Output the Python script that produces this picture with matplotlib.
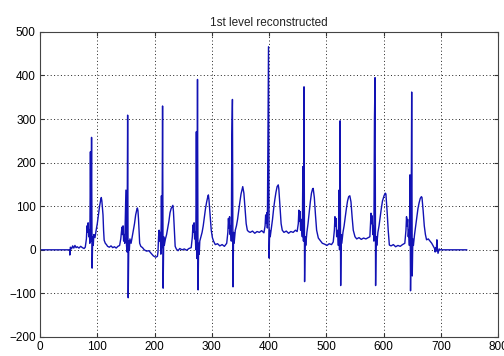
import matplotlib
matplotlib.use("Agg")
import matplotlib.pyplot as plt

# Sample positions and reconstructed amplitudes
sample_x = [0, 52,
    52, 53, 55, 57, 59, 61, 63, 65, 68, 71, 74, 77, 79, 81, 82, 83, 84, 85, 86, 87, 88, 89, 90, 91, 92, 93, 94, 96, 98, 100, 102, 104, 106, 107, 108, 110, 111, 112, 114, 116, 118, 121, 124, 127, 130, 133, 136, 139,
    141, 143, 144, 145, 146, 147, 148, 150, 151, 152, 153, 154, 155, 156, 157, 159, 161, 163, 165, 167, 169, 170, 171, 172, 173, 174, 176, 179, 182, 186, 190, 194, 198, 202, 205,
    206, 207, 208, 209, 210, 211, 212, 213, 214, 215, 216, 217, 219, 221, 223, 225, 227, 229, 231, 232, 233, 234, 235, 236, 238, 241, 244, 248, 252, 256, 260, 264,
    266, 267, 268, 269, 270, 271, 272, 273, 274, 275, 276, 277, 278, 279, 281, 283, 285, 287, 289, 291, 293, 294, 295, 297, 299, 301, 303, 306, 310, 314, 318, 322, 326,
    328, 329, 330, 331, 332, 333, 334, 335, 336, 337, 338, 339, 341, 343, 345, 347, 349, 351, 353, 354, 356, 358, 360, 362, 364, 367, 371, 375, 379, 383, 387, 391,
    393, 394, 395, 396, 397, 398, 399, 400, 401, 402, 404, 406, 408, 410, 412, 414, 416, 417, 419, 421, 423, 426, 430, 434, 438, 442, 446, 449,
    451, 452, 453, 454, 455, 456, 458, 459, 460, 461, 462, 463, 464, 466, 468, 470, 472, 474, 476, 477, 479, 481, 483, 486, 489, 493, 497, 501, 505, 509, 512,
    514, 515, 516, 517, 518, 520, 521, 522, 523, 524, 525, 526, 527, 529, 531, 533, 535, 537, 539, 541, 543, 545, 547, 550, 553, 557, 561, 565, 569, 573, 576,
    577, 578, 579, 580, 581, 582, 583, 584, 585, 586, 587, 588, 590, 592, 594, 596, 598, 601, 603, 604, 606, 608, 610, 613, 617, 621, 625, 629, 633, 637,
    639, 640, 641, 642, 643, 644, 645, 646, 647, 648, 649, 650, 651, 652, 654, 656, 658, 660, 662, 664, 666, 667, 669, 671, 673, 675, 678, 681, 684, 687, 689, 690, 691, 692, 693, 694, 695, 697, 699, 745]

signal_y = [0, 0,
    -12, 6, 2, 9, 4, 10, 5, 7, 4, 8, 5, 3, 6, 25, 55, 40, 62, 30, 45, 15, 225, 20, 258, -42, 30, 10, 35, 28, 45, 60, 80, 100, 115, 120, 112, 80, 45, 22, 15, 12, 8, 6, 9, 5, 7, 4, 8, 10,
    25, 52, 35, 55, 20, 35, 15, 137, 10, -5, 309, -110, 20, 0, 25, 15, 30, 45, 60, 80, 92, 96, 90, 70, 40, 15, 8, 5, 0, -3, -2, -8, -14, -17, -15,
    -5, 30, 45, 20, 40, -10, 124, 5, 330, -88, 30, 10, 25, 35, 50, 65, 85, 95, 100, 102, 88, 60, 30, 8, 2, -2, 3, 0, 2, -1, 3, 5,
    30, 57, 40, 62, 25, 40, 0, 271, -20, 391, -92, 15, -10, 20, 30, 40, 55, 75, 95, 110, 122, 126, 115, 80, 45, 28, 20, 12, 14, 9, 12, 8, 15,
    40, 72, 50, 76, 35, 55, 20, 264, 345, -85, 40, 15, 45, 55, 70, 90, 110, 128, 140, 145, 130, 95, 60, 45, 42, 40, 43, 38, 42, 40, 44, 39,
    55, 80, 62, 85, 50, 275, 466, -19, 45, 30, 50, 70, 95, 115, 132, 145, 149, 140, 100, 60, 45, 40, 43, 38, 42, 40, 45, 42,
    60, 91, 65, 88, 45, 70, 30, 191, 20, 374, -73, 30, 10, 40, 60, 85, 110, 130, 140, 141, 120, 80, 45, 27, 22, 15, 13, 10, 14, 12, 18,
    45, 76, 55, 72, 30, 45, 10, 137, 0, 296, -82, 35, 15, 40, 55, 75, 95, 112, 122, 124, 110, 75, 45, 30, 25, 28, 24, 27, 25, 28, 30,
    55, 84, 60, 78, 35, 55, 20, 298, 395, -82, 30, 10, 40, 55, 75, 95, 112, 125, 130, 128, 90, 45, 11, 9, 12, 7, 10, 8, 12, 15,
    45, 76, 55, 70, 30, 45, 10, 172, -94, 20, 362, -60, 25, 10, 35, 55, 75, 95, 108, 118, 122, 120, 90, 55, 35, 23, 25, 20, 15, 8, 3, -5, 5, -3, 23, 0, -8, 2, 0, 0]

x_ticks = [0, 100, 200, 300, 400, 500, 600, 700, 800]
y_ticks = [-200, -100, 0, 100, 200, 300, 400, 500]
title_text = "1st level reconstructed"

plt.rcParams['font.family'] = ['Liberation Sans', 'DejaVu Sans']

fig = plt.figure(figsize=(5.04, 3.56), dpi=100)
ax = fig.add_axes([0.0794, 0.0534, 0.909, 0.857])
ax.plot(sample_x, signal_y, color='#1212b4', linewidth=1.0)
ax.set_xlim(0, 800)
ax.set_ylim(-200, 500)
ax.set_xticks(x_ticks)
ax.set_yticks(y_ticks)
ax.grid(True, linestyle=(0, (1, 2.5)), color='#222222', linewidth=0.7)
ax.tick_params(direction='in', top=True, right=True, labelsize=8.5, length=3,
               color='#333333', pad=3)
for s in ax.spines.values():
    s.set_color('#444444')
    s.set_linewidth(0.8)
ax.set_title(title_text, fontsize=8.5, color='#222222', pad=4)
fig.savefig('out.png', dpi=100)
